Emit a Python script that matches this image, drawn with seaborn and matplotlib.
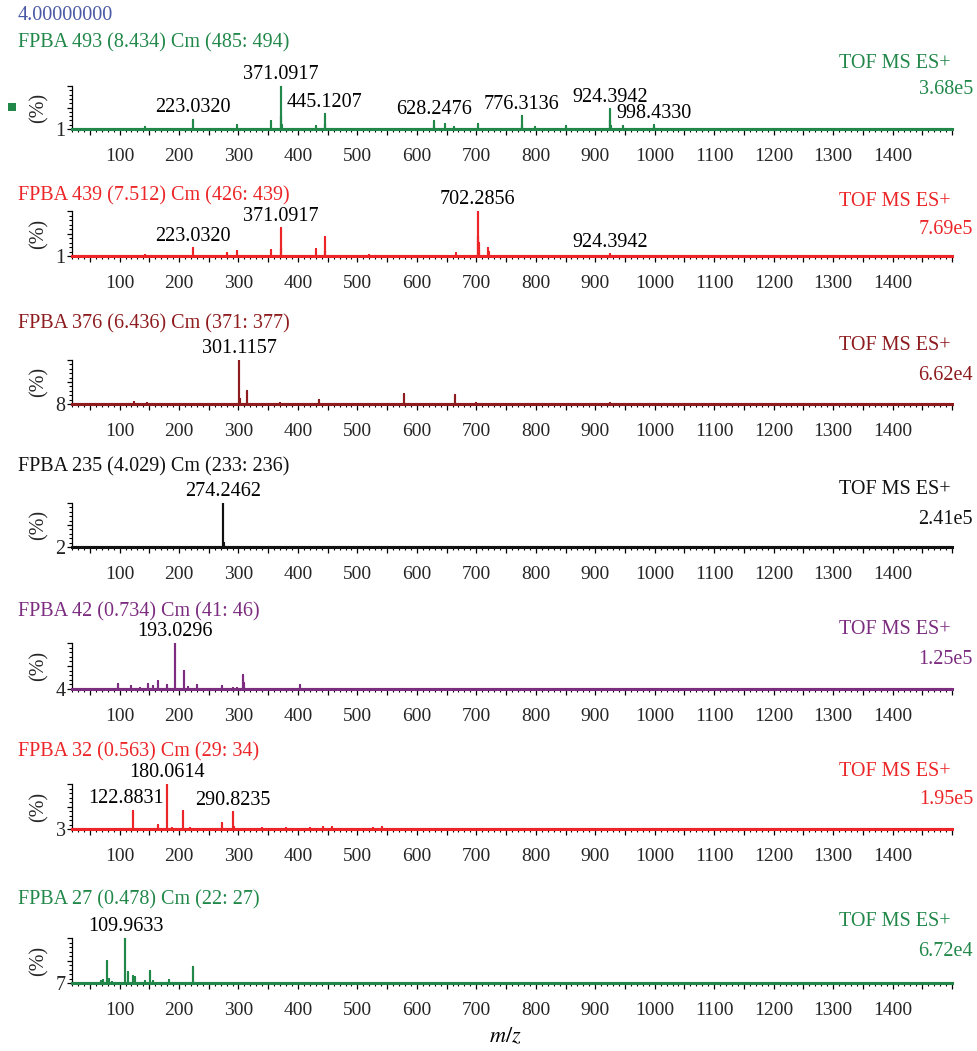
import numpy as np
import pandas as pd
import matplotlib
matplotlib.use("Agg")
import matplotlib.pyplot as plt
from matplotlib.ticker import MultipleLocator, FixedLocator, FixedFormatter, FuncFormatter
import seaborn as sns

# ---------------- data ----------------
header = "4.00000000"
titles = [
    "FPBA 493 (8.434) Cm (485: 494)",
    "FPBA 439 (7.512) Cm (426: 439)",
    "FPBA 376 (6.436) Cm (371: 377)",
    "FPBA 235 (4.029) Cm (233: 236)",
    "FPBA 42 (0.734) Cm (41: 46)",
    "FPBA 32 (0.563) Cm (29: 34)",
    "FPBA 27 (0.478) Cm (22: 27)",
]
scan_mode = "TOF MS ES+"
base_peak_counts = ["3.68e5", "7.69e5", "6.62e4", "2.41e5", "1.25e5", "1.95e5", "6.72e4"]
axis_floor_labels = ["1", "1", "8", "2", "4", "3", "7"]

mz_1 = [143, 223.0320, 297, 355, 371.0917, 372.1, 373.1, 430, 445.1207, 446.1,
        628.2476, 629.2, 648, 662, 702, 776.3136, 777.3, 798, 851,
        924.3942, 925.4, 926.4, 946, 998.4330, 999.4]
int_1 = [4, 22, 9, 19, 100, 30, 10, 6, 35, 12,
         19, 8, 12, 5, 12, 30, 10, 5, 6,
         47, 20, 8, 7, 10, 5]
lab_1 = [223.0320, 371.0917, 445.1207, 628.2476, 776.3136, 924.3942, 998.4330]

mz_2 = [143, 223.0320, 280, 297, 355, 371.0917, 372.1, 430, 445.1207, 446.1,
        520, 665, 702.2856, 703.3, 704.3, 705.3, 720, 721, 924.3942, 925.4]
int_2 = [3, 18, 6, 11, 13, 62, 18, 15, 42, 12,
         3, 7, 100, 45, 28, 14, 18, 8, 5, 3]
lab_2 = [223.0320, 371.0917, 702.2856, 924.3942]

mz_3 = [124, 146, 301.1157, 303, 315, 370, 435, 578, 664, 700, 924]
int_3 = [4, 3, 100, 12, 30, 2, 10, 23, 21, 2, 3]
lab_3 = [301.1157]

mz_4 = [274.2462, 275.2]
int_4 = [100, 10]
lab_4 = [274.2462]

mz_5 = [98, 120, 135, 147, 157, 165, 179, 193.0296, 209, 215, 231, 273, 290, 297,
        307, 309, 403]
int_5 = [10, 7, 3, 10, 6, 17, 8, 100, 40, 5, 9, 6, 3, 3,
         30, 13, 9]
lab_5 = [193.0296]

mz_6 = [122.8831, 164, 180.0614, 188, 206, 218, 272, 290.8235, 292, 340, 380, 420,
        442, 458, 526, 542]
int_6 = [41, 9, 100, 3, 40, 3, 14, 37, 5, 2, 2, 2,
         4, 5, 3, 5]
lab_6 = [122.8831, 180.0614, 290.8235]

mz_7 = [68, 72, 79, 82, 88, 109.9633, 114, 122, 126, 142, 151, 157, 183, 223]
int_7 = [5, 7, 49, 8, 3, 100, 25, 16, 13, 5, 26, 4, 6, 36]
lab_7 = [109.9633]

spectra = [(mz_1, int_1, lab_1), (mz_2, int_2, lab_2), (mz_3, int_3, lab_3),
           (mz_4, int_4, lab_4), (mz_5, int_5, lab_5), (mz_6, int_6, lab_6),
           (mz_7, int_7, lab_7)]

# ---------------- style ----------------
GREEN = "#22884a"
RED = "#ec2628"
DARKRED = "#8e1c1f"
BLACK = "#111111"
PURPLE = "#7c2d80"
BLUE = "#4a58a6"
trace_colors = [GREEN, RED, DARKRED, BLACK, PURPLE, RED, GREEN]

sns.set_theme(style="ticks")
plt.rcParams["font.family"] = ["Liberation Serif", "DejaVu Serif"]
plt.rcParams["mathtext.fontset"] = "stix"

FS_TEXT = 14.5
FS_TICK = 14
FS_PEAK = 14.5

# horizontal shift (points) for peak labels that would collide with a neighbouring stick
label_shift = {(5, 122.8831): -5}

W, H = 977, 1051
fig = plt.figure(figsize=(W / 100, H / 100), dpi=100)

# axis frame in pixel units: (top, baseline)
frames = [(86, 129), (211, 256), (360, 404), (503, 547), (643, 689), (784, 829), (938, 983)]
title_y = [43, 196, 324, 467, 612, 752, 900]
tof_y = [64, 201, 345, 490, 630, 771, 922]
count_y = [89, 230, 375, 519, 660, 799, 952]
X0, X1 = 72, 952
MZ_MIN, MZ_MAX = 20, 1500


def fy(ypix):
    return 1 - ypix / H


def stick_trace(mz, inten):
    xs, ys = [MZ_MIN], [0.0]
    for m, h in sorted(zip(mz, inten)):
        xs += [m, m, m]
        ys += [0.0, h, 0.0]
    xs.append(MZ_MAX)
    ys.append(0.0)
    return pd.DataFrame({"mz": xs, "rel": ys})


fig.text(18 / W, fy(16), header, color=BLUE, fontsize=FS_TEXT, va="center", ha="left")

for i, ((mz, inten, labs), col) in enumerate(zip(spectra, trace_colors)):
    top, base = frames[i]
    ax = fig.add_axes([X0 / W, fy(base), (X1 - X0) / W, (base - top) / H])
    df = stick_trace(mz, inten)
    sns.lineplot(data=df, x="mz", y="rel", sort=False, estimator=None,
                 color=col, linewidth=1.5, ax=ax)
    ax.set_xlim(MZ_MIN, MZ_MAX)
    ax.set_ylim(0, 100)
    ax.set_xlabel("")
    ax.set_ylabel("(%)", fontsize=FS_TEXT, labelpad=5)

    for s in ["top", "right"]:
        ax.spines[s].set_visible(False)
    ax.spines["left"].set_color("black")
    ax.spines["left"].set_linewidth(0.9)
    ax.spines["bottom"].set_color(col)
    ax.spines["bottom"].set_linewidth(2.2)
    ax.spines["bottom"].set_zorder(3)

    ax.xaxis.set_major_locator(MultipleLocator(50))
    ax.xaxis.set_minor_locator(MultipleLocator(10))
    ax.xaxis.set_major_formatter(FuncFormatter(
        lambda v, p: f"{int(round(v))}" if round(v) % 100 == 0 and v < 1450 else ""))
    ax.yaxis.set_major_locator(FixedLocator([0, 50, 100]))
    ax.yaxis.set_major_formatter(FixedFormatter([axis_floor_labels[i], "", ""]))
    ax.yaxis.set_minor_locator(MultipleLocator(10))
    ax.tick_params(axis="x", which="major", direction="out", length=4, width=0.9,
                   color="black", labelsize=FS_TICK, pad=10)
    ax.tick_params(axis="x", which="minor", direction="out", length=2, width=0.8, color="black")
    ax.tick_params(axis="y", which="major", direction="out", length=3.5, width=0.9,
                   color="black", labelsize=FS_TEXT, pad=1)
    ax.tick_params(axis="y", which="minor", direction="out", length=2, width=0.8, color="black")

    for m in labs:
        h = inten[mz.index(m)]
        dx = label_shift.get((i, m), 0)
        ax.annotate(f"{m:.4f}", xy=(m, h), xytext=(dx, 1.5), textcoords="offset points",
                    ha="center", va="bottom", fontsize=FS_PEAK, color="black",
                    annotation_clip=False)

    fig.text(18 / W, fy(title_y[i]), titles[i], color=col, fontsize=FS_TEXT, va="center", ha="left")
    fig.text(951 / W, fy(tof_y[i]), scan_mode, color=col, fontsize=FS_TEXT, va="center", ha="right")
    fig.text(973 / W, fy(count_y[i]), base_peak_counts[i], color=col, fontsize=FS_TEXT,
             va="center", ha="right")

# marker square next to the first trace
fig.patches.append(plt.Rectangle((8 / W, fy(111)), 8 / W, 8 / H, transform=fig.transFigure,
                                 facecolor=GREEN, edgecolor="none"))

fig.text(505 / W, fy(1037), "$m/z$", fontsize=16, ha="center", va="center", color="black")

fig.savefig("out.png", dpi=100)
